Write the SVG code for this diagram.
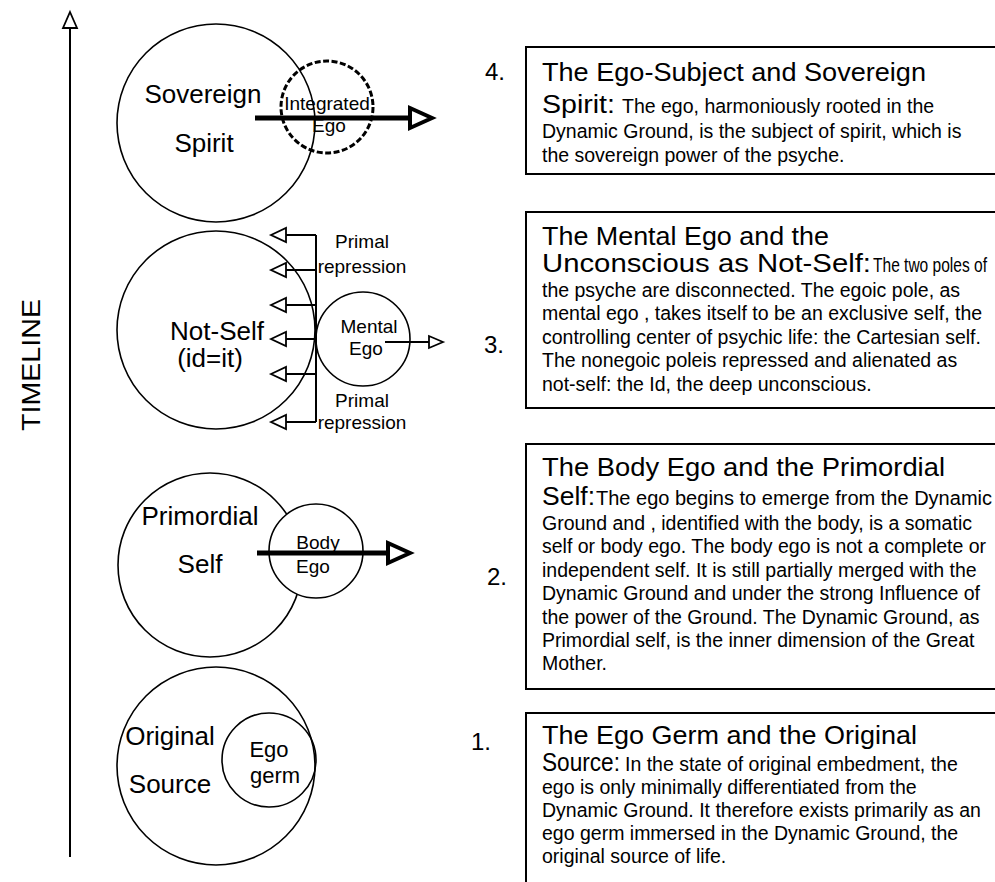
<svg xmlns="http://www.w3.org/2000/svg" width="995" height="882" viewBox="0 0 995 882">
<defs>
<style>
text{font-family:"Liberation Sans",Arial,sans-serif;fill:#000}
.c{fill:none;stroke:#000;stroke-width:1.6}
.lbl{font-size:26px}
.sm{font-size:19px}
.tt{font-size:26px}
.bd{font-size:19.5px}
.num{font-size:24px}
.box{fill:none;stroke:#000;stroke-width:2}
.thin{stroke:#000;stroke-width:2;fill:none}
.oh{fill:#fff;stroke:#000;stroke-width:1.8}
.thick{stroke:#000;stroke-width:5;fill:none}
.th{fill:#fff;stroke:#000;stroke-width:4;stroke-linejoin:miter}
</style>
</defs>
<rect width="995" height="882" fill="#fff"/>

<g id="timeline">
<line x1="70" y1="27" x2="70" y2="857" class="thin"/>
<polygon points="70,12 77,28 63,28" class="oh"/>
<text font-size="26" transform="translate(40,365) rotate(-90)" text-anchor="middle" textLength="132" lengthAdjust="spacingAndGlyphs">TIMELINE</text>
</g>

<g id="stage4">
<circle cx="216" cy="123" r="99" class="c"/>
<circle cx="327" cy="107" r="46" fill="none" stroke="#000" stroke-width="3" stroke-dasharray="6 2.5"/>
<text class="lbl" x="203" y="103" text-anchor="middle">Sovereign</text>
<text class="lbl" x="204" y="152" text-anchor="middle">Spirit</text>
<text class="sm" x="327" y="110" text-anchor="middle">Integrated</text>
<text class="sm" x="329" y="132" text-anchor="middle">Ego</text>
</g>

<g id="stage3">
<circle cx="216" cy="330" r="99" class="c"/>
<circle cx="363" cy="339" r="47" class="c"/>
<text class="lbl" x="217" y="340" text-anchor="middle">Not-Self</text>
<text class="lbl" x="210" y="367" text-anchor="middle">(id=it)</text>
<text class="sm" x="369" y="333" text-anchor="middle">Mental</text>
<text class="sm" x="366" y="355" text-anchor="middle">Ego</text>
<text class="sm" x="362" y="248" text-anchor="middle">Primal</text>
<text class="sm" x="362" y="273" text-anchor="middle">repression</text>
<text class="sm" x="362" y="407" text-anchor="middle">Primal</text>
<text class="sm" x="362" y="429" text-anchor="middle">repression</text>
</g>

<g id="stage2">
<circle cx="210" cy="565" r="92" class="c"/>
<circle cx="316" cy="551" r="47" fill="#fff" stroke="#000" stroke-width="1.6"/>
<text class="lbl" x="200" y="525" text-anchor="middle">Primordial</text>
<text class="lbl" x="200" y="573" text-anchor="middle">Self</text>
<text class="sm" x="318" y="549" text-anchor="middle">Body</text>
<text class="sm" x="313" y="573" text-anchor="middle">Ego</text>
</g>

<g id="stage1">
<circle cx="216" cy="766" r="99" class="c"/>
<circle cx="269" cy="760" r="47" class="c"/>
<text class="lbl" x="170" y="745" text-anchor="middle">Original</text>
<text class="lbl" x="170" y="793" text-anchor="middle">Source</text>
<text font-size="22" x="269" y="757" text-anchor="middle">Ego</text>
<text font-size="22" x="275" y="783" text-anchor="middle">germ</text>
</g>

<g id="connectors">
<line x1="255" y1="118" x2="412" y2="118" class="thick"/>
<polygon points="410,108 432,118 410,128" class="th"/>
<line x1="316" y1="235" x2="316" y2="422" class="thin" stroke-width="2.5"/>
<g class="thin">
<line x1="316" y1="235" x2="285" y2="235"/>
<line x1="316" y1="270" x2="285" y2="270"/>
<line x1="316" y1="305" x2="285" y2="305"/>
<line x1="316" y1="339" x2="285" y2="339"/>
<line x1="316" y1="374" x2="285" y2="374"/>
<line x1="316" y1="422" x2="285" y2="422"/>
</g>
<polygon points="271,235 286,228 286,242" class="oh"/>
<polygon points="271,270 286,263 286,277" class="oh"/>
<polygon points="271,305 286,298 286,312" class="oh"/>
<polygon points="271,339 286,332 286,346" class="oh"/>
<polygon points="271,374 286,367 286,381" class="oh"/>
<polygon points="271,422 286,415 286,429" class="oh"/>
<line x1="385" y1="342" x2="429" y2="342" class="thin"/>
<polygon points="443,342 429,336 429,348" class="oh"/>
<line x1="257" y1="553" x2="390" y2="553" class="thick"/>
<polygon points="388,543 410,553 388,563" class="th"/>
</g>

<g id="box4">
<rect x="526" y="47" width="480" height="127" class="box"/>
<text class="num" x="485" y="80">4.</text>
<text class="tt" x="542" y="81" textLength="384" lengthAdjust="spacingAndGlyphs">The Ego-Subject and Sovereign</text>
<text class="tt" x="542" y="113" textLength="73" lengthAdjust="spacingAndGlyphs">Spirit:</text>
<text class="bd" x="622" y="113">The ego, harmoniously rooted in the</text>
<text class="bd" x="542" y="138">Dynamic Ground, is the subject of spirit, which is</text>
<text class="bd" x="542" y="162">the sovereign power of the psyche.</text>
</g>

<g id="box3">
<rect x="526" y="212" width="480" height="196" class="box"/>
<text class="num" x="484" y="353">3.</text>
<text class="tt" x="542" y="245" textLength="287" lengthAdjust="spacingAndGlyphs">The Mental Ego and the</text>
<text class="tt" x="542" y="272" textLength="329" lengthAdjust="spacingAndGlyphs">Unconscious as Not-Self:</text>
<text class="bd" x="873" y="272" textLength="114" lengthAdjust="spacingAndGlyphs">The two poles of</text>
<text class="bd" x="542" y="297">the psyche are disconnected. The egoic pole, as</text>
<text class="bd" x="542" y="320">mental ego , takes itself to be an exclusive self, the</text>
<text class="bd" x="542" y="344">controlling center of psychic life: the Cartesian self.</text>
<text class="bd" x="542" y="367">The nonegoic poleis repressed and alienated as</text>
<text class="bd" x="542" y="391">not-self: the Id, the deep unconscious.</text>
</g>

<g id="box2">
<rect x="526" y="444" width="480" height="245" class="box"/>
<text class="num" x="487" y="585">2.</text>
<text class="tt" x="542" y="476" textLength="403" lengthAdjust="spacingAndGlyphs">The Body Ego and the Primordial</text>
<text class="tt" x="542" y="505" textLength="53" lengthAdjust="spacingAndGlyphs">Self:</text>
<text class="bd" x="596" y="505" textLength="396" lengthAdjust="spacingAndGlyphs">The ego begins to emerge from the Dynamic</text>
<text class="bd" x="542" y="530">Ground and , identified with the body, is a somatic</text>
<text class="bd" x="542" y="553">self or body ego. The body ego is not a complete or</text>
<text class="bd" x="542" y="577">independent self.  It is still partially merged with the</text>
<text class="bd" x="542" y="600">Dynamic Ground and under the strong Influence of</text>
<text class="bd" x="542" y="624">the power of the Ground. The Dynamic Ground, as</text>
<text class="bd" x="542" y="647">Primordial self, is the inner dimension of the Great</text>
<text class="bd" x="542" y="670">Mother.</text>
</g>

<g id="box1">
<path d="M1000,713 H526 V882" class="box"/>
<text class="num" x="471" y="750">1.</text>
<text class="tt" x="542" y="744" textLength="375" lengthAdjust="spacingAndGlyphs">The Ego Germ and the Original</text>
<text class="tt" font-size="24" x="542" y="771" textLength="78" lengthAdjust="spacingAndGlyphs">Source:</text>
<text class="bd" x="625" y="771">In the state of original embedment, the</text>
<text class="bd" x="542" y="794">ego is only minimally differentiated from the</text>
<text class="bd" x="542" y="817">Dynamic Ground. It therefore exists primarily as an</text>
<text class="bd" x="542" y="840">ego germ immersed in the Dynamic Ground, the</text>
<text class="bd" x="542" y="863">original source of life.</text>
</g>
</svg>
